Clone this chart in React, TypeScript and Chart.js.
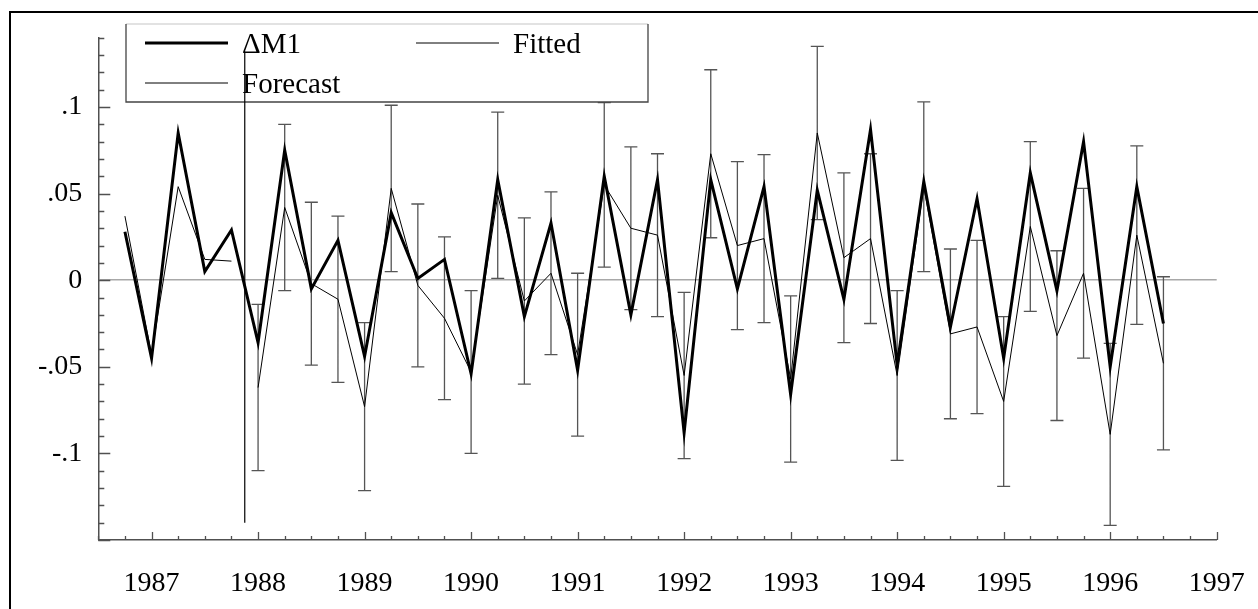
import React, { useEffect, useRef } from 'react';
import { Chart, registerables } from 'chart.js';

Chart.register(...registerables);

// ---------- data (quarterly, x = year + (quarter-1)/4) ----------
const QSTEP = 0.25;

const dM1Start = 1986.75; // 1986(4)
const dM1 = [
  0.028, -0.045, 0.085, 0.005, 0.029,
  -0.036, 0.075, -0.005, 0.023,
  -0.044, 0.039, 0.001, 0.012,
  -0.054, 0.058, -0.021, 0.033,
  -0.052, 0.060, -0.020, 0.058,
  -0.088, 0.058, -0.005, 0.054,
  -0.066, 0.052, -0.011, 0.087,
  -0.049, 0.057, -0.027, 0.047,
  -0.045, 0.062, -0.006, 0.080,
  -0.050, 0.054, -0.025,
];

const fittedStart = 1986.75;
const fitted = [0.037, -0.043, 0.054, 0.012, 0.011];

const forecastStart = 1988.0;
const forecast = [
  -0.062, 0.042, -0.002, -0.011,
  -0.073, 0.053, -0.003, -0.022,
  -0.053, 0.049, -0.012, 0.004,
  -0.043, 0.055, 0.030, 0.026,
  -0.055, 0.073, 0.020, 0.024,
  -0.057, 0.085, 0.013, 0.024,
  -0.055, 0.054, -0.031, -0.027,
  -0.070, 0.031, -0.032, 0.004,
  -0.089, 0.026, -0.048,
];
// half-length of the forecast error bars
const forecastErr = [
  0.048, 0.048, 0.047, 0.048,
  0.0485, 0.048, 0.047, 0.047,
  0.047, 0.048, 0.048, 0.047,
  0.047, 0.0475, 0.047, 0.047,
  0.048, 0.0485, 0.0485, 0.0485,
  0.048, 0.050, 0.049, 0.049,
  0.049, 0.049, 0.049, 0.050,
  0.049, 0.049, 0.049, 0.049,
  0.0525, 0.0515, 0.050,
];

// vertical marker at the start of the forecast period
const breakX = 1987.875;
const breakRange = [-0.14, 0.132];

// axes
const xMin = 1986.5;
const xMax = 1997.0;
const yMin = -0.15;
const yMax = 0.14;
const xTickValues = [1987, 1988, 1989, 1990, 1991, 1992, 1993, 1994, 1995, 1996, 1997];
const xTickLabels = ['1987', '1988', '1989', '1990', '1991', '1992', '1993', '1994', '1995', '1996', '1997'];
const yTickValues = [-0.1, -0.05, 0, 0.05, 0.1];
const yTickLabels = ['-.1', '-.05', '0', '.05', '.1'];
const xMinorStep = 0.25;
const yMinorStep = 0.01;

const seriesLabels = ['\u0394M1', 'Fitted', 'Forecast'];

// ---------- styles ----------
const W = 1258;
const H = 609;
const SERIF = "'Liberation Serif', 'Times New Roman', Times, serif";
const AXIS_COLOR = '#505050';
const BAR_COLOR = '#555555';

export default function App() {
  const ref = useRef<HTMLCanvasElement>(null);

  useEffect(() => {
    document.body.style.margin = '0';
    const canvas = ref.current;
    if (!canvas) return;

    const toPts = (start: number, arr: number[]) =>
      arr.map((v, i) => ({ x: start + i * QSTEP, y: v }));

    const decor = {
      id: 'decor',
      beforeDatasetsDraw(chart: any) {
        const { ctx, chartArea } = chart;
        const xs = chart.scales.x;
        const ys = chart.scales.y;
        ctx.save();

        // inward tick marks (major + minor)
        ctx.strokeStyle = AXIS_COLOR;
        ctx.lineWidth = 1.3;
        ctx.beginPath();
        const nY = Math.round((yMax - yMin) / yMinorStep);
        for (let k = 0; k <= nY; k++) {
          const v = yMin + k * yMinorStep;
          const cents = Math.round(v * 100);
          const major = cents % 5 === 0;
          const py = Math.round(ys.getPixelForValue(v)) + 0.5;
          ctx.moveTo(chartArea.left, py);
          ctx.lineTo(chartArea.left + (major ? 12 : 6), py);
        }
        const nX = Math.round((xMax - xMin) / xMinorStep);
        for (let k = 0; k <= nX; k++) {
          const v = xMin + k * xMinorStep;
          const major = Math.abs(v - Math.round(v)) < 1e-6;
          const px = Math.round(xs.getPixelForValue(v)) + 0.5;
          ctx.moveTo(px, chartArea.bottom);
          ctx.lineTo(px, chartArea.bottom - (major ? 8 : 4));
        }
        ctx.stroke();

        // forecast error bars
        ctx.strokeStyle = BAR_COLOR;
        ctx.lineWidth = 1.3;
        ctx.beginPath();
        forecast.forEach((v, i) => {
          const px = xs.getPixelForValue(forecastStart + i * QSTEP);
          const top = ys.getPixelForValue(v + forecastErr[i]);
          const bot = ys.getPixelForValue(v - forecastErr[i]);
          ctx.moveTo(px, top);
          ctx.lineTo(px, bot);
          ctx.moveTo(px - 6.5, top);
          ctx.lineTo(px + 6.5, top);
          ctx.moveTo(px - 6.5, bot);
          ctx.lineTo(px + 6.5, bot);
        });
        ctx.stroke();

        // legend box
        const bx = 126, by = 24, bw = 522, bh = 78;
        ctx.lineWidth = 1.3;
        ctx.strokeStyle = '#d8d8d8';
        ctx.beginPath();
        ctx.moveTo(bx, by);
        ctx.lineTo(bx + bw, by);
        ctx.stroke();
        ctx.strokeStyle = '#444';
        ctx.beginPath();
        ctx.moveTo(bx + bw, by);
        ctx.lineTo(bx + bw, by + bh);
        ctx.lineTo(bx, by + bh);
        ctx.lineTo(bx, by);
        ctx.stroke();

        const slots = [
          { lx: 145, ly: 43 },
          { lx: 416, ly: 43 },
          { lx: 145, ly: 83 },
        ];
        ctx.font = `29px ${SERIF}`;
        ctx.fillStyle = '#000';
        ctx.textBaseline = 'alphabetic';
        ctx.textAlign = 'left';
        slots.forEach((s, i) => {
          const ds = chart.data.datasets[i];
          ctx.strokeStyle = ds.borderColor;
          ctx.lineWidth = ds.borderWidth;
          ctx.beginPath();
          ctx.moveTo(s.lx, s.ly);
          ctx.lineTo(s.lx + 83, s.ly);
          ctx.stroke();
          ctx.fillText(ds.label, s.lx + 97, s.ly + 10);
        });

        ctx.restore();
      },
    };

    const chart = new Chart(canvas, {
      type: 'line',
      data: {
        datasets: [
          {
            label: seriesLabels[0],
            data: toPts(dM1Start, dM1),
            borderColor: '#000',
            borderWidth: 3,
            pointRadius: 0,
            tension: 0,
            fill: false,
          },
          {
            label: seriesLabels[1],
            data: toPts(fittedStart, fitted),
            borderColor: '#000',
            borderWidth: 1,
            pointRadius: 0,
            tension: 0,
            fill: false,
          },
          {
            label: seriesLabels[2],
            data: toPts(forecastStart, forecast),
            borderColor: '#000',
            borderWidth: 1,
            pointRadius: 0,
            tension: 0,
            fill: false,
          },
          {
            label: 'forecast start',
            data: [
              { x: breakX, y: breakRange[0] },
              { x: breakX, y: breakRange[1] },
            ],
            borderColor: '#000',
            borderWidth: 1.2,
            pointRadius: 0,
            fill: false,
          },
        ],
      },
      options: {
        animation: false,
        responsive: false,
        devicePixelRatio: 1,
        layout: { padding: { left: 0, top: 37.7, right: 41.3, bottom: 0 } },
        plugins: {
          legend: { display: false },
          tooltip: { enabled: false },
          title: { display: false },
        },
        scales: {
          x: {
            type: 'linear',
            min: xMin,
            max: xMax,
            afterBuildTicks: (s: any) => {
              s.ticks = xTickValues.map((v) => ({ value: v }));
            },
            afterFit: (s: any) => {
              s.height = H - 540;
              s.paddingLeft = 0;
              s.paddingRight = 0;
            },
            ticks: {
              autoSkip: false,
              maxRotation: 0,
              padding: 27,
              color: '#000',
              font: { family: SERIF, size: 28 },
              callback: (_v: any, i: number) => xTickLabels[i],
            },
            grid: { display: false, drawTicks: false },
            border: { display: true, color: AXIS_COLOR, width: 1.5 },
          },
          y: {
            type: 'linear',
            min: yMin,
            max: yMax,
            afterBuildTicks: (s: any) => {
              s.ticks = yTickValues.map((v) => ({ value: v }));
            },
            afterFit: (s: any) => {
              s.width = 98.3;
              s.paddingTop = 0;
              s.paddingBottom = 0;
            },
            ticks: {
              autoSkip: false,
              padding: 16,
              color: '#000',
              font: { family: SERIF, size: 28 },
              callback: (_v: any, i: number) => yTickLabels[i],
            },
            grid: {
              drawTicks: false,
              lineWidth: 1.5,
              color: (c: any) =>
                c.tick && Math.abs(c.tick.value) < 1e-9 ? '#a8a8a8' : 'rgba(0,0,0,0)',
            },
            border: { display: true, color: AXIS_COLOR, width: 1.5 },
          },
        },
      },
      plugins: [decor],
    });

    return () => chart.destroy();
  }, []);

  return (
    <div
      style={{
        position: 'fixed',
        left: 0,
        top: 0,
        width: W,
        height: H,
        overflow: 'hidden',
        background: '#fff',
      }}
    >
      <div
        style={{
          position: 'absolute',
          left: 9,
          top: 11,
          width: 1400,
          height: 800,
          border: '2px solid #000',
          boxSizing: 'border-box',
        }}
      />
      <canvas
        ref={ref}
        width={W}
        height={H}
        style={{ position: 'absolute', left: 0, top: 0, width: W, height: H }}
      />
    </div>
  );
}
